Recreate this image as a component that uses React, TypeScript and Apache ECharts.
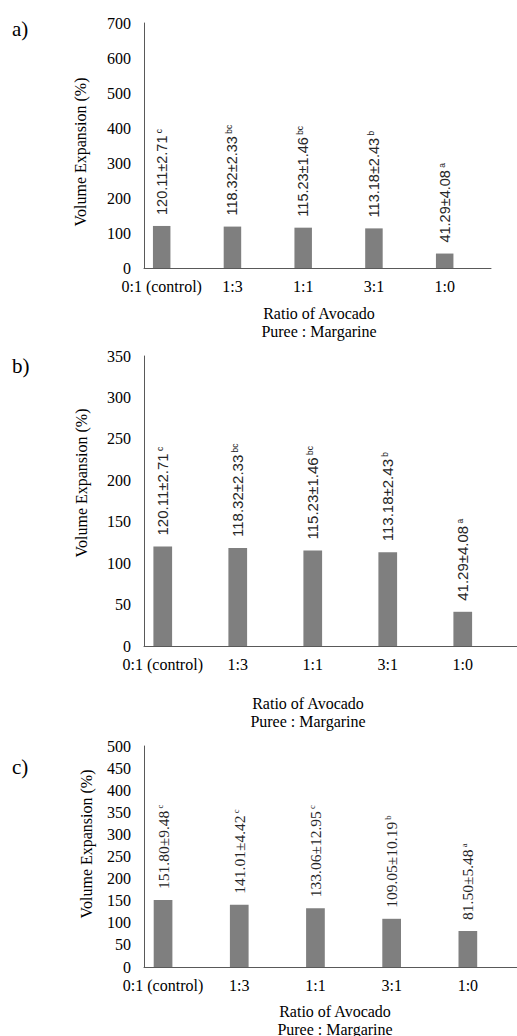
import React, { useEffect, useRef } from "react";
import * as echarts from "echarts";

const categories = ["0:1 (control)", "1:3", "1:1", "3:1", "1:0"];

const meansA = [120.11, 118.32, 115.23, 113.18, 41.29];
const sdsA = [2.71, 2.33, 1.46, 2.43, 4.08];
const lettersA = ["c", "bc", "bc", "b", "a"];

const meansB = [120.11, 118.32, 115.23, 113.18, 41.29];
const sdsB = [2.71, 2.33, 1.46, 2.43, 4.08];
const lettersB = ["c", "bc", "bc", "b", "a"];

const meansC = [151.8, 141.01, 133.06, 109.05, 81.5];
const sdsC = [9.48, 4.42, 12.95, 10.19, 5.48];
const lettersC = ["c", "c", "c", "b", "a"];

const yMaxes = [700, 350, 500];
const yIntervals = [100, 50, 50];
const panelLetters = ["a)", "b)", "c)"];
const yTitle = "Volume Expansion (%)";
const xTitle = "Ratio of Avocado\nPuree : Margarine";

const SERIF = "Liberation Serif";
const SANS = "Liberation Sans";

// layout (pixels)
const panels = [
  { means: meansA, sds: sdsA, letters: lettersA, left: 144, top: 23, width: 347, height: 245, step: 70.75, barWidth: 17.5, labelFont: SANS, labelSize: 14.5, panelY: 18, yTitleX: 80, yTitleY: 152, xTitleX: 319, xTitleY: 304 },
  { means: meansB, sds: sdsB, letters: lettersB, left: 144, top: 356, width: 373, height: 290, step: 75, barWidth: 18.7, labelFont: SANS, labelSize: 15, panelY: 355, yTitleX: 81, yTitleY: 483, xTitleX: 308, xTitleY: 694 },
  { means: meansC, sds: sdsC, letters: lettersC, left: 144, top: 746, width: 373, height: 221, step: 76.2, barWidth: 18.7, labelFont: SERIF, labelSize: 15.5, panelY: 756, yTitleX: 86, yTitleY: 844, xTitleX: 335, xTitleY: 1002 },
];

export default function App() {
  const ref = useRef<HTMLDivElement>(null);
  useEffect(() => {
    if (!ref.current) return;
    const chart = echarts.init(ref.current, null, { renderer: "svg" });
    const grid: any[] = [];
    const xAxis: any[] = [];
    const yAxis: any[] = [];
    const series: any[] = [];
    const graphic: any[] = [];
    panels.forEach((p, k) => {
      grid.push({ left: p.left, top: p.top, width: p.width, height: p.height, containLabel: false });
      xAxis.push({
        type: "value",
        gridIndex: k,
        min: -0.25,
        max: -0.25 + p.width / p.step,
        axisLine: { show: true, onZero: false, lineStyle: { color: "#595959", width: 1 } },
        axisTick: { show: false },
        splitLine: { show: false },
        axisLabel: {
          customValues: [0, 1, 2, 3, 4],
          formatter: (v: number) => categories[Math.round(v)] ?? "",
          margin: 10,
          fontSize: 16,
          fontFamily: SERIF,
          color: "#000",
        },
      });
      yAxis.push({
        type: "value",
        gridIndex: k,
        min: 0,
        max: yMaxes[k],
        interval: yIntervals[k],
        axisLine: { show: true, onZero: false, lineStyle: { color: "#595959", width: 1 } },
        axisTick: { show: false },
        splitLine: { show: false },
        axisLabel: { margin: 13, fontSize: 16, fontFamily: SERIF, color: "#000" },
      });
      series.push({
        type: "bar",
        xAxisIndex: k,
        yAxisIndex: k,
        barWidth: p.barWidth,
        itemStyle: { color: "#7f7f7f" },
        data: p.means.map((v, i) => [i, v]),
        label: {
          show: true,
          position: "top",
          rotate: 90,
          align: "left",
          verticalAlign: "middle",
          distance: 11,
          fontSize: p.labelSize,
          fontFamily: p.labelFont,
          color: "#262626",
          formatter: (prm: any) => {
            const i = prm.dataIndex;
            return `{v|${p.means[i].toFixed(2)}±${p.sds[i].toFixed(2)}}{s| ${p.letters[i]}}`;
          },
          rich: {
            v: { fontSize: p.labelSize, fontFamily: p.labelFont, color: "#262626", verticalAlign: "bottom" },
            s: { fontSize: 8.5, fontFamily: p.labelFont, color: "#262626", verticalAlign: "top" },
          },
        },
      });
      graphic.push({
        type: "text",
        left: 12,
        top: p.panelY,
        style: { text: panelLetters[k], fontSize: 21, fontFamily: SERIF, fill: "#000" },
      });
      graphic.push({
        type: "text",
        x: p.yTitleX,
        y: p.yTitleY,
        rotation: Math.PI / 2,
        style: { text: yTitle, fontSize: 16, fontFamily: SERIF, fill: "#000", textAlign: "center", textVerticalAlign: "middle" },
      });
      graphic.push({
        type: "text",
        x: p.xTitleX,
        y: p.xTitleY,
        style: { text: xTitle, fontSize: 16, fontFamily: SERIF, fill: "#000", textAlign: "center", textVerticalAlign: "top", lineHeight: 18 },
      });
    });
    chart.setOption({
      animation: false,
      backgroundColor: "#fff",
      grid,
      xAxis,
      yAxis,
      series,
      graphic,
    });
    return () => chart.dispose();
  }, []);
  return (
    <div
      ref={ref}
      style={{ position: "absolute", left: 0, top: 0, width: 517, height: 1036 }}
    />
  );
}
